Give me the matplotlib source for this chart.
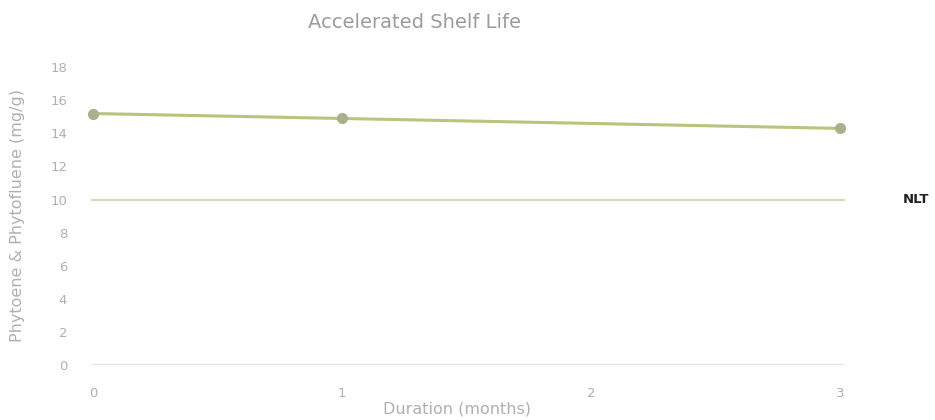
import matplotlib
matplotlib.use("Agg")
import matplotlib.pyplot as plt

# Stability data
months = [0, 1, 3]
phyto = [15.2, 14.9, 14.3]
nlt_value = 10
x_ticks = [0, 1, 2, 3]
y_ticks = list(range(0, 20, 2))

text_gray = "#b0b0b0"
line_green = "#b9c47c"
marker_green = "#a9b08c"

fig = plt.figure(figsize=(9.35, 4.2), dpi=100)
ax = fig.add_axes([0.097, 0.131, 0.807, 0.709])

ax.axhline(nlt_value, color="#d6dcb8", lw=1.6, zorder=1)
ax.axhline(0, color="#e6e6e6", lw=2.5, zorder=1)
ax.plot(months, phyto, color=line_green, lw=2.2, marker="o", ms=7,
        mfc=marker_green, mec=marker_green, zorder=3, clip_on=False)

ax.set_xlim(-0.01, 3.02)
ax.set_ylim(0, 18)
ax.set_xticks(x_ticks)
ax.set_yticks(y_ticks)
for s in ax.spines.values():
    s.set_visible(False)
ax.tick_params(length=0, colors=text_gray, labelsize=9.5)
ax.tick_params(axis="x", pad=16)
ax.tick_params(axis="y", pad=17)

fig.text(414 / 935, 1 - 23 / 420, "Accelerated Shelf Life", color="#9c9c9c",
         fontsize=14, ha="center", va="center")
fig.text(457 / 935, 1 - 409 / 420, "Duration (months)", color=text_gray,
         fontsize=11.5, ha="center", va="center")
fig.text(18 / 935, 1 - 216 / 420, "Phytoene & Phytofluene (mg/g)", color=text_gray,
         fontsize=11.5, ha="center", va="center", rotation=90)

fig.text(903 / 935, ax.transData.transform((0, nlt_value))[1] / fig.bbox.height, "NLT",
         va="center", ha="left", fontsize=9.5, fontweight="bold", color="#222222")

fig.savefig("out.png", dpi=100, facecolor="white")
